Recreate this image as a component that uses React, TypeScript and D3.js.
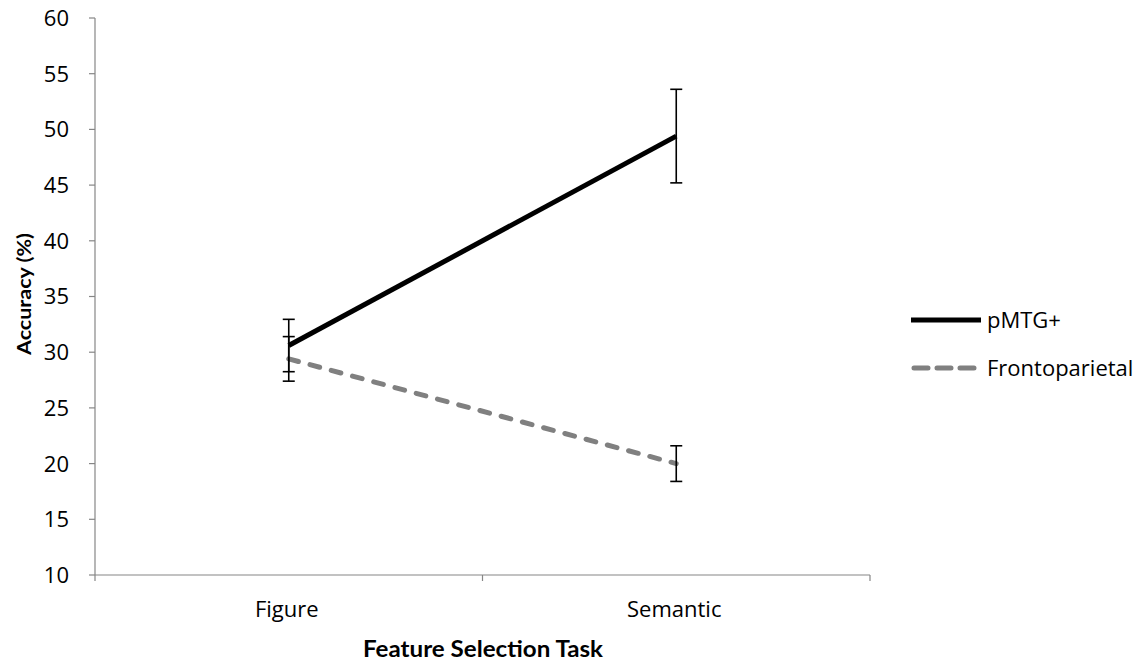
import React from "react";
import * as d3 from "d3";

const categories = ["Figure", "Semantic"];
const pmtgMeans = [30.6, 49.4];
const pmtgErr = [2.35, 4.2];
const frontoMeans = [29.4, 20.0];
const frontoErr = [2.0, 1.6];
const yTicks = [10, 15, 20, 25, 30, 35, 40, 45, 50, 55, 60];

const W = 1148, H = 664;
const left = 95, right = 870, top = 18, bottom = 575;
const FONT = "'Open Sans', sans-serif";
const BOLD = "Lato, 'Open Sans', sans-serif";

export default function App() {
  const y = d3.scaleLinear().domain([10, 60]).range([bottom, top]);
  const x = d3.scaleBand().domain(categories).range([left, right]).padding(0);
  const cx = (c: string) => (x(c) as number) + x.bandwidth() / 2;
  const line = d3.line<number>().x((_, i) => cx(categories[i])).y((v) => y(v));
  const series = [
    { name: "pMTG+", means: pmtgMeans, err: pmtgErr, color: "#000", dash: undefined as string | undefined, legDash: undefined as string | undefined, cap: "butt" },
    { name: "Frontoparietal", means: frontoMeans, err: frontoErr, color: "#808080", dash: "10 12", legDash: "14 9", cap: "round" },
  ];
  const boundaries = [left, ...categories.map((c) => (x(c) as number) + x.bandwidth())];
  return (
    <svg width={W} height={H} style={{ position: "absolute", left: 0, top: 0 }} fontFamily={FONT}>
      <rect width={W} height={H} fill="#fff" />
      <line x1={left} x2={left} y1={top} y2={bottom} stroke="#868686" strokeWidth={1.2} />
      <line x1={left} x2={right} y1={bottom} y2={bottom} stroke="#868686" strokeWidth={1.2} />
      {yTicks.map((t) => (
        <g key={t}>
          <line x1={left - 6} x2={left} y1={y(t)} y2={y(t)} stroke="#868686" strokeWidth={1.2} />
          <text x={left - 26} y={y(t)} dy="0.36em" textAnchor="end" fontSize={22} fill="#000">{t}</text>
        </g>
      ))}
      {boundaries.map((b, i) => (
        <line key={i} x1={b} x2={b} y1={bottom} y2={bottom + 6} stroke="#868686" strokeWidth={1.2} />
      ))}
      {categories.map((c) => (
        <text key={c} x={cx(c) - 2} y={617} textAnchor="middle" fontSize={22} fill="#000">{c}</text>
      ))}
      <text x={483} y={657} textAnchor="middle" fontSize={23} fontWeight="bold" fontFamily={BOLD} fill="#000" textLength={240} lengthAdjust="spacingAndGlyphs">Feature Selection Task</text>
      <text transform={`translate(31,294) rotate(-90)`} textAnchor="middle" fontSize={19} fontWeight="bold" fontFamily={BOLD} fill="#000" textLength={122} lengthAdjust="spacingAndGlyphs">Accuracy (%)</text>
      {series.slice().reverse().map((s) => (
        <path key={s.name} d={line(s.means) as string} fill="none" stroke={s.color} strokeWidth={5} strokeDasharray={s.dash} strokeLinecap={s.cap as any} />
      ))}
      {series.map((s) =>
        s.means.map((m, i) => {
          const px = cx(categories[i]);
          return (
            <g key={s.name + i} stroke="#000" strokeWidth={1.6}>
              <line x1={px} x2={px} y1={y(m + s.err[i])} y2={y(m - s.err[i])} />
              <line x1={px - 6} x2={px + 6} y1={y(m + s.err[i])} y2={y(m + s.err[i])} />
              <line x1={px - 6} x2={px + 6} y1={y(m - s.err[i])} y2={y(m - s.err[i])} />
            </g>
          );
        })
      )}
      {series.map((s, i) => {
        const ly = 320 + i * 48;
        return (
          <g key={s.name}>
            <line x1={s.dash ? 914 : 911} x2={s.dash ? 978 : 981} y1={ly} y2={ly} stroke={s.color} strokeWidth={5} strokeDasharray={s.legDash} strokeLinecap={s.cap as any} />
            <text x={987} y={ly} dy="0.36em" fontSize={22} fill="#000">{s.name}</text>
          </g>
        );
      })}
    </svg>
  );
}
